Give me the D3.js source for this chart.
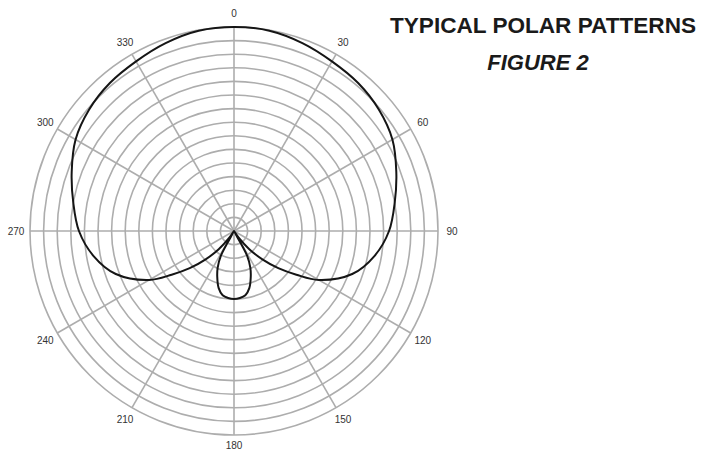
<!DOCTYPE html>
<html>
<head>
<meta charset="utf-8">
<script src="https://cdn.jsdelivr.net/npm/d3@7/dist/d3.min.js"></script>
<style>
  body { margin: 0; background: #fff; }
  svg { display: block; }
</style>
</head>
<body>
<div id="chart"></div>
<script>
// pattern angle (deg, clockwise from top) and relative level (dB)
const angles = [0, 10, 20, 30, 40, 50, 60, 70, 80, 90, 100, 110, 120, 125, 130, 135, 140, 145, 148,
  152, 156, 160, 165, 170, 175, 180, 185, 190, 195, 200, 204,
  208, 212, 215, 220, 225, 230, 235, 240, 250, 260, 270, 280, 290, 300, 310, 320, 330, 340, 350];
const levels = [0, -0.1, -0.6, -1.2, -1.6, -2.2, -3.1, -4.6, -6.0, -7.2, -9.0, -11.5, -15.6, -18.8, -21.5, -24.1, -26.5, -28.8, -30,
  -25.9, -24.1, -22.8, -21.3, -20.4, -20.1, -20.0, -20.1, -20.4, -21.3, -22.8, -24.1,
  -25.9, -30, -28.8, -26.5, -24.1, -21.5, -18.8, -15.6, -11.5, -9.0, -7.2, -6.0, -4.6, -3.1, -2.2, -1.6, -1.2, -0.6, -0.1];

const spokeAngles = [0, 30, 60, 90, 120, 150, 180, 210, 240, 270, 300, 330];
const ringLevels = d3.range(-28, 1, 2); // 15 rings

const titleText = 'TYPICAL POLAR PATTERNS';
const subTitle = 'FIGURE 2';

const width = 704, height = 451;
const cx = 234, cy = 231, R = 204;

const svg = d3.select('#chart').append('svg')
  .attr('width', width)
  .attr('height', height);

const r = d3.scaleLinear().domain([-30, 0]).range([0, R]);
const rad = d => d * Math.PI / 180;

const g = svg.append('g')
  .attr('transform', 'translate(' + cx + ',' + cy + ')');

// rings
g.selectAll('circle.ring')
  .data(ringLevels)
  .enter().append('circle')
  .attr('class', 'ring')
  .attr('r', d => r(d))
  .attr('fill', 'none')
  .attr('stroke', '#adadad')
  .attr('stroke-width', 1.6);

// spokes
g.selectAll('line.spoke')
  .data(spokeAngles)
  .enter().append('line')
  .attr('class', 'spoke')
  .attr('x1', 0)
  .attr('y1', 0)
  .attr('x2', d => Math.sin(rad(d)) * r(0))
  .attr('y2', d => -Math.cos(rad(d)) * r(0))
  .attr('stroke', '#adadad')
  .attr('stroke-width', 1.6);

// angle labels (180 pulled in a little so it stays inside the frame)
const lblR = d => r(0) + (d === 180 ? 10 : 14);
g.selectAll('text.lbl')
  .data(spokeAngles)
  .enter().append('text')
  .attr('class', 'lbl')
  .attr('x', d => Math.sin(rad(d)) * lblR(d))
  .attr('y', d => -Math.cos(rad(d)) * lblR(d))
  .attr('text-anchor', 'middle')
  .attr('dominant-baseline', 'central')
  .attr('font-family', '"Liberation Sans", Arial, sans-serif')
  .attr('font-size', 10)
  .attr('fill', '#333')
  .text(d => d);

// pattern
const pts = angles.map((a, i) => ({ a: a, v: levels[i] }));
const line = d3.lineRadial()
  .angle(d => rad(d.a))
  .radius(d => r(d.v))
  .curve(d3.curveCatmullRomClosed.alpha(0.5));

g.append('path')
  .datum(pts)
  .attr('d', line)
  .attr('fill', 'none')
  .attr('stroke', '#151515')
  .attr('stroke-width', 2);

// titles
svg.append('text')
  .attr('x', 543)
  .attr('y', 32.5)
  .attr('text-anchor', 'middle')
  .attr('font-family', '"Liberation Sans", Arial, sans-serif')
  .attr('font-weight', 'bold')
  .attr('font-size', 22)
  .attr('textLength', 306)
  .attr('lengthAdjust', 'spacingAndGlyphs')
  .attr('fill', '#1a1a1a')
  .text(titleText);

svg.append('text')
  .attr('x', 538)
  .attr('y', 70)
  .attr('text-anchor', 'middle')
  .attr('font-family', '"Liberation Sans", Arial, sans-serif')
  .attr('font-weight', 'bold')
  .attr('font-style', 'italic')
  .attr('font-size', 22)
  .attr('fill', '#1a1a1a')
  .text(subTitle);
</script>
</body>
</html>
